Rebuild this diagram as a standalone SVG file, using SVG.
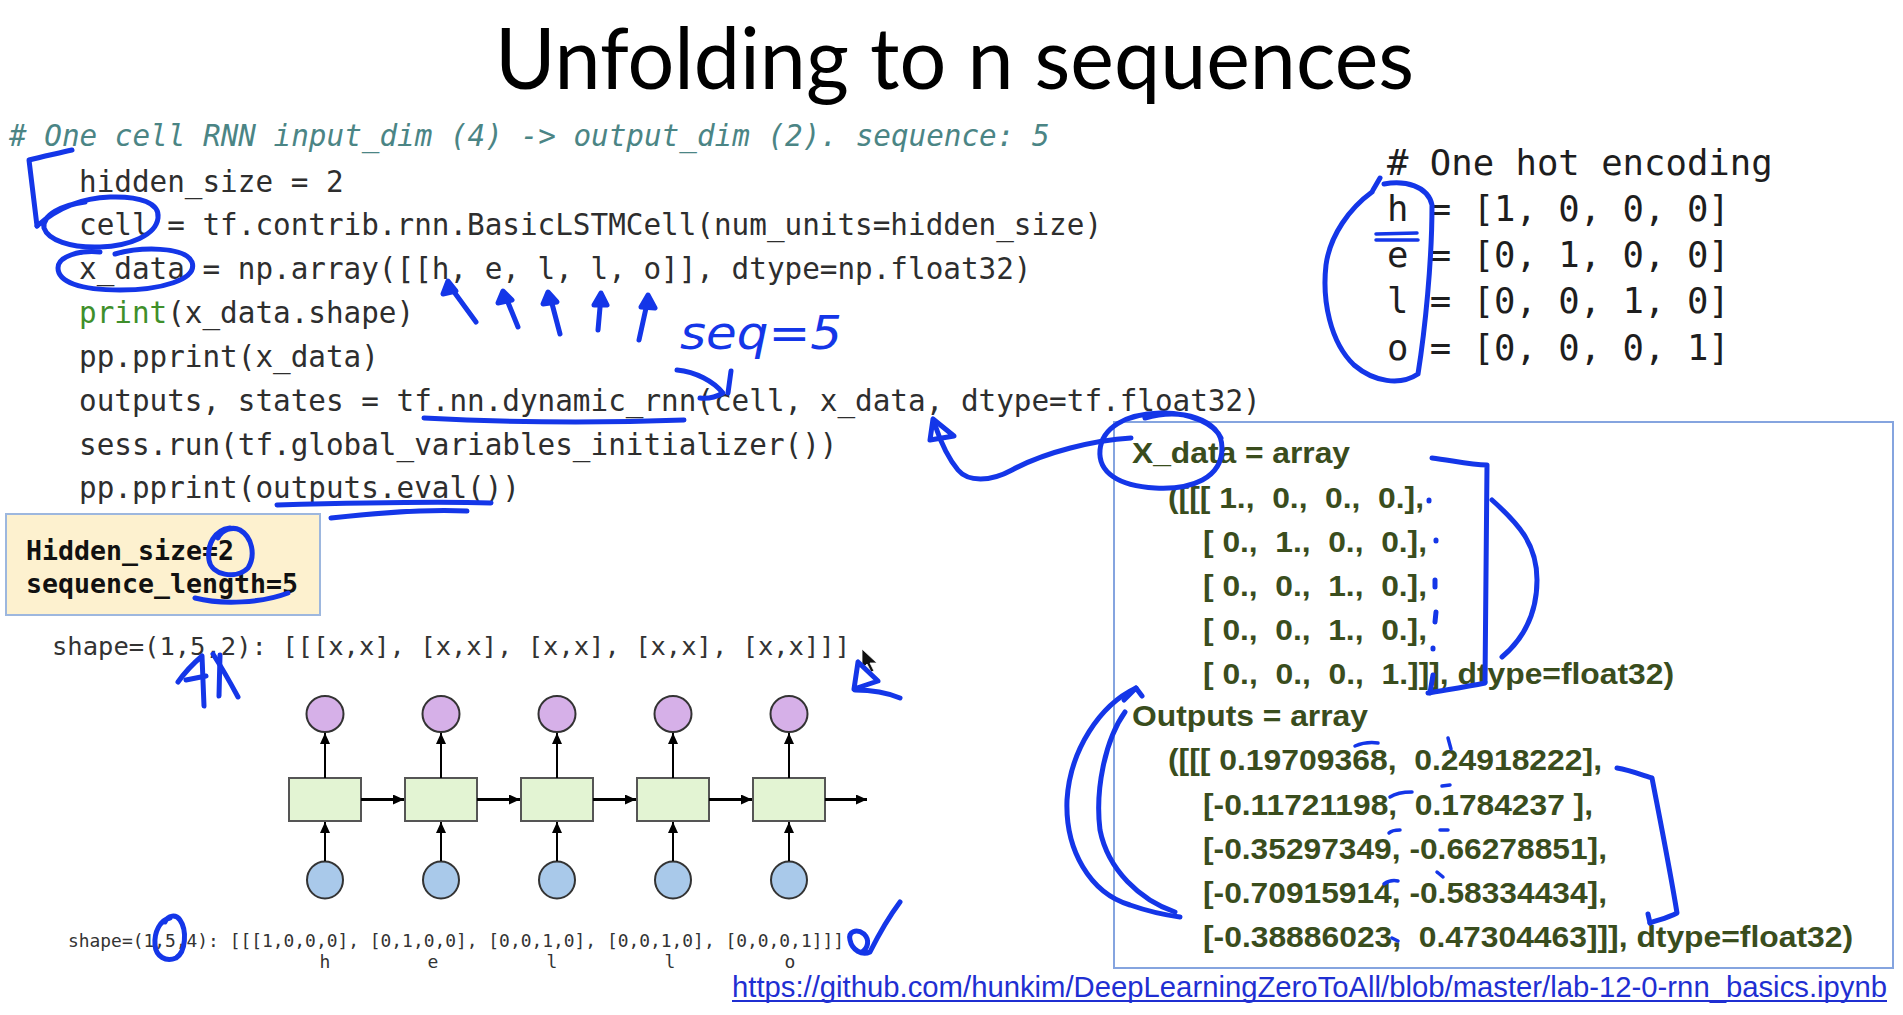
<svg xmlns="http://www.w3.org/2000/svg" width="1903" height="1015" viewBox="0 0 1903 1015">
<defs>
<style>
.title{font-family:Lato,"Open Sans","Liberation Sans",sans-serif;font-size:86px;fill:#000}
.code{font-family:"DejaVu Sans Mono","Liberation Mono",monospace;font-size:29.3px;fill:#2e2e2e;white-space:pre}
.cmt{font-style:italic;fill:#4b8585}
.kw{fill:#3f8f2b}
.hot{font-family:"DejaVu Sans Mono","Liberation Mono",monospace;font-size:35.6px;fill:#1e1e1e;white-space:pre}
.note{font-family:"DejaVu Sans Mono","Liberation Mono",monospace;font-size:26.5px;font-weight:bold;fill:#111}
.shape{font-family:"DejaVu Sans Mono","Liberation Mono",monospace;fill:#333;white-space:pre}
.arr{font-family:"Liberation Sans",Arial,sans-serif;font-size:30px;font-weight:bold;fill:#3a4d1d;white-space:pre}
.link{font-family:"Liberation Sans",Arial,sans-serif;font-size:29.2px;fill:#1f2fd2}
.ink{fill:none;stroke:#1436e8;stroke-width:5;stroke-linecap:round;stroke-linejoin:round}
.ink.thin{stroke-width:3.5}
.ink.solid{fill:#1436e8}
.hand{font-family:"DejaVu Sans","Liberation Sans",sans-serif;font-style:italic;font-size:46px;fill:#1436e8}
.out{fill:#d6b0e8;stroke:#333;stroke-width:2}
.inp{fill:#a9c9ea;stroke:#333;stroke-width:2}
.cell{fill:#e3f4d3;stroke:#555;stroke-width:2}
.edge{stroke:#000;stroke-width:2;fill:none}
.edge.h{stroke-width:3}
</style>
<marker id="ah" viewBox="0 0 11 10" refX="11" refY="5" markerWidth="11" markerHeight="10" markerUnits="userSpaceOnUse" orient="auto"><path d="M0,0 L11,5 L0,10 Z" fill="#000"/></marker>
</defs>

<rect width="1903" height="1015" fill="#fff"/>

<!-- heading -->
<text class="title" x="495" y="89" textLength="919" lengthAdjust="spacingAndGlyphs">Unfolding to n sequences</text>

<!-- source listing -->
<g id="code">
<text class="code cmt" x="9" y="146"># One cell RNN input_dim (4) -&gt; output_dim (2). sequence: 5</text>
<text class="code" x="79" y="192">hidden_size = 2</text>
<text class="code" x="79" y="235">cell = tf.contrib.rnn.BasicLSTMCell(num_units=hidden_size)</text>
<text class="code" x="79" y="279">x_data = np.array([[h, e, l, l, o]], dtype=np.float32)</text>
<text class="code" x="79" y="323"><tspan class="kw">print</tspan>(x_data.shape)</text>
<text class="code" x="79" y="367">pp.pprint(x_data)</text>
<text class="code" x="79" y="411">outputs, states = tf.nn.dynamic_rnn(cell, x_data, dtype=tf.float32)</text>
<text class="code" x="79" y="455">sess.run(tf.global_variables_initializer())</text>
<text class="code" x="79" y="498">pp.pprint(outputs.eval())</text>
</g>

<!-- one-hot table -->
<g id="one-hot">
<text class="hot" x="1387" y="175"># One hot encoding</text>
<text class="hot" x="1387" y="221">h = [1, 0, 0, 0]</text>
<text class="hot" x="1387" y="267">e = [0, 1, 0, 0]</text>
<text class="hot" x="1387" y="313">l = [0, 0, 1, 0]</text>
<text class="hot" x="1387" y="360">o = [0, 0, 0, 1]</text>
</g>

<!-- parameter note -->
<g id="params">
<rect x="6" y="514" width="314" height="101" fill="#fdf1cf" stroke="#9db7de" stroke-width="2"/>
<text class="note" x="26" y="560" textLength="208" lengthAdjust="spacingAndGlyphs">Hidden_size=2</text>
<text class="note" x="26" y="593" textLength="272" lengthAdjust="spacingAndGlyphs">sequence_length=5</text>
</g>

<text class="shape" x="52" y="655" font-size="25.5" textLength="798" lengthAdjust="spacingAndGlyphs">shape=(1,5,2): [[[x,x], [x,x], [x,x], [x,x], [x,x]]]</text>

<!-- unrolled RNN -->
<g id="outputs">
<g id="y1"><ellipse class="out" cx="325" cy="714" rx="18.5" ry="18"/></g>
<g id="y2"><ellipse class="out" cx="441" cy="714" rx="18.5" ry="18"/></g>
<g id="y3"><ellipse class="out" cx="557" cy="714" rx="18.5" ry="18"/></g>
<g id="y4"><ellipse class="out" cx="673" cy="714" rx="18.5" ry="18"/></g>
<g id="y5"><ellipse class="out" cx="789" cy="714" rx="18.5" ry="18"/></g>
</g>
<g id="cells">
<g id="c1"><rect class="cell" x="289" y="778" width="72" height="43"/></g>
<g id="c2"><rect class="cell" x="405" y="778" width="72" height="43"/></g>
<g id="c3"><rect class="cell" x="521" y="778" width="72" height="43"/></g>
<g id="c4"><rect class="cell" x="637" y="778" width="72" height="43"/></g>
<g id="c5"><rect class="cell" x="753" y="778" width="72" height="43"/></g>
</g>
<g id="inputs">
<g id="x1"><ellipse class="inp" cx="325" cy="880" rx="18" ry="18.5"/></g>
<g id="x2"><ellipse class="inp" cx="441" cy="880" rx="18" ry="18.5"/></g>
<g id="x3"><ellipse class="inp" cx="557" cy="880" rx="18" ry="18.5"/></g>
<g id="x4"><ellipse class="inp" cx="673" cy="880" rx="18" ry="18.5"/></g>
<g id="x5"><ellipse class="inp" cx="789" cy="880" rx="18" ry="18.5"/></g>
</g>
<g id="connectors">
<path class="edge" d="M325,778 L325,733" marker-end="url(#ah)"/>
<path class="edge" d="M441,778 L441,733" marker-end="url(#ah)"/>
<path class="edge" d="M557,778 L557,733" marker-end="url(#ah)"/>
<path class="edge" d="M673,778 L673,733" marker-end="url(#ah)"/>
<path class="edge" d="M789,778 L789,733" marker-end="url(#ah)"/>
<path class="edge" d="M325,861 L325,822" marker-end="url(#ah)"/>
<path class="edge" d="M441,861 L441,822" marker-end="url(#ah)"/>
<path class="edge" d="M557,861 L557,822" marker-end="url(#ah)"/>
<path class="edge" d="M673,861 L673,822" marker-end="url(#ah)"/>
<path class="edge" d="M789,861 L789,822" marker-end="url(#ah)"/>
<path class="edge h" d="M361,799.5 L404,799.5" marker-end="url(#ah)"/>
<path class="edge h" d="M477,799.5 L520,799.5" marker-end="url(#ah)"/>
<path class="edge h" d="M593,799.5 L636,799.5" marker-end="url(#ah)"/>
<path class="edge h" d="M709,799.5 L752,799.5" marker-end="url(#ah)"/>
<path class="edge h" d="M825,799.5 L867,799.5" marker-end="url(#ah)"/>
</g>

<text class="shape" x="68" y="947" font-size="18" textLength="776" lengthAdjust="spacingAndGlyphs">shape=(1,5,4): [[[1,0,0,0], [0,1,0,0], [0,0,1,0], [0,0,1,0], [0,0,0,1]]]</text>
<g class="shape" font-size="18" text-anchor="middle">
<text x="325" y="968">h</text>
<text x="433" y="968">e</text>
<text x="552" y="968">l</text>
<text x="670" y="968">l</text>
<text x="790" y="968">o</text>
</g>

<!-- printed arrays -->
<g id="results">
<rect x="1114" y="422" width="779" height="546" fill="none" stroke="#85a4df" stroke-width="2"/>
<text class="arr" x="1132" y="463" textLength="218" lengthAdjust="spacingAndGlyphs">X_data = array</text>
<text class="arr" x="1168" y="508" textLength="256" lengthAdjust="spacingAndGlyphs">([[[ 1.,  0.,  0.,  0.],</text>
<text class="arr" x="1203" y="552" textLength="224" lengthAdjust="spacingAndGlyphs">[ 0.,  1.,  0.,  0.],</text>
<text class="arr" x="1203" y="596" textLength="224" lengthAdjust="spacingAndGlyphs">[ 0.,  0.,  1.,  0.],</text>
<text class="arr" x="1203" y="640" textLength="224" lengthAdjust="spacingAndGlyphs">[ 0.,  0.,  1.,  0.],</text>
<text class="arr" x="1203" y="684" textLength="471" lengthAdjust="spacingAndGlyphs">[ 0.,  0.,  0.,  1.]]], dtype=float32)</text>
<text class="arr" x="1132" y="726" textLength="236" lengthAdjust="spacingAndGlyphs">Outputs = array</text>
<text class="arr" x="1168" y="770" textLength="434" lengthAdjust="spacingAndGlyphs">([[[ 0.19709368,  0.24918222],</text>
<text class="arr" x="1203" y="815" textLength="390" lengthAdjust="spacingAndGlyphs">[-0.11721198,  0.1784237 ],</text>
<text class="arr" x="1203" y="859" textLength="404" lengthAdjust="spacingAndGlyphs">[-0.35297349, -0.66278851],</text>
<text class="arr" x="1203" y="903" textLength="404" lengthAdjust="spacingAndGlyphs">[-0.70915914, -0.58334434],</text>
<text class="arr" x="1203" y="947" textLength="650" lengthAdjust="spacingAndGlyphs">[-0.38886023,  0.47304463]]], dtype=float32)</text>
</g>

<!-- source link -->
<text class="link" x="732" y="997" textLength="1155" lengthAdjust="spacingAndGlyphs">https://github.com/hunkim/DeepLearningZeroToAll/blob/master/lab-12-0-rnn_basics.ipynb</text>
<line x1="732" y1="1001" x2="1887" y2="1001" stroke="#1f2fd2" stroke-width="2"/>

<!-- mouse pointer -->
<polygon points="862,649 862,669 867,664 871,672 874,671 870,663 877,663" fill="#111" stroke="#fff" stroke-width="0.8"/>

<!-- pen annotations -->
<g id="ink">
<path class="ink" d="M72,150 C55,154 40,157 29,160 L37,226"/>
<path class="ink" d="M37,226 C55,210 80,198 110,197 C140,196 160,203 158,218 C156,235 130,246 100,247 C70,248 48,240 44,228 C42,215 62,205 85,202"/>
<path class="ink" d="M115,254 C140,247 185,246 192,262 C198,280 160,290 120,290 C80,290 58,282 58,268 C58,256 80,250 100,252"/>

<path class="ink" d="M476,322 L449,285"/><path class="ink solid" d="M443,294 L448,281 L456,291 Z"/>
<path class="ink" d="M518,327 L505,295"/><path class="ink solid" d="M498,303 L503,291 L512,300 Z"/>
<path class="ink" d="M560,334 L550,296"/><path class="ink solid" d="M543,304 L548,292 L557,302 Z"/>
<path class="ink" d="M598,330 L601,296"/><path class="ink solid" d="M594,305 L601,293 L607,305 Z"/>
<path class="ink" d="M639,340 L648,299"/><path class="ink solid" d="M641,307 L648,295 L655,308 Z"/>
<text class="hand" x="680" y="349" textLength="162" lengthAdjust="spacingAndGlyphs">seq=5</text>

<path class="ink" d="M424,418 C500,422 600,423 684,420"/>
<path class="ink" d="M677,370 C696,372 713,381 723,393 C716,397 708,399 700,398"/>
<path class="ink" d="M731,371 L728,393"/>

<path class="ink" d="M1131,438 C1095,440 1045,452 1012,470 C990,482 968,482 958,470 C948,458 941,443 935,425"/>
<path class="ink" d="M933,419 L930,440 L954,436 Z"/>
<path class="ink" d="M1145,418 C1180,408 1222,418 1222,448 C1222,478 1192,490 1155,488 C1118,486 1098,472 1100,450 C1102,428 1125,414 1160,413 C1192,412 1215,425 1221,438"/>

<path class="ink" d="M277,505 C350,503 430,501 491,503"/>
<path class="ink" d="M331,518 C385,512 430,509 467,511"/>

<path class="ink" d="M230,528 C214,530 207,545 209,560 C211,575 236,580 248,568 C256,555 252,537 240,530 C232,526 222,530 218,538"/>
<path class="ink" d="M195,598 C222,605 262,603 288,593"/>

<path class="ink" d="M178,682 C185,672 195,662 202,656 L204,706"/>
<path class="ink" d="M186,680 L206,676"/>
<path class="ink" d="M213,654 C222,668 230,682 238,697"/>
<path class="ink" d="M220,655 L219,696"/>
<path class="ink" d="M858,662 L854,689 L878,681 Z"/>
<path class="ink" d="M855,690 C870,690 888,693 900,698"/>

<path class="ink" d="M170,918 C160,920 154,932 155,945 C156,957 166,962 176,958 C186,952 187,930 180,920 C176,914 168,915 165,922"/>
<path class="ink" d="M900,902 C888,918 878,936 870,952 C862,956 852,950 850,940 C848,932 856,928 864,934 C870,940 868,948 862,952"/>

<path class="ink" d="M1373,190 L1380,178"/>
<path class="ink" d="M1384,184 C1405,180 1428,186 1432,205 C1432,262 1425,330 1418,374 C1400,386 1374,382 1354,365 C1330,342 1322,300 1326,265 C1330,235 1350,208 1372,192"/>
<path class="ink thin" d="M1376,234 L1417,233 M1376,240 L1418,240"/>

<path class="ink" d="M1432,458 C1450,460 1470,465 1487,465 L1485,683 C1466,687 1445,690 1428,693"/>
<path class="ink" d="M1433,675 L1430,693"/>
<path class="ink" d="M1492,500 C1520,525 1537,545 1537,580 C1537,615 1522,640 1502,657"/>
<path class="ink" d="M1429,500 L1429,501 M1436,540 L1436,541 M1435,580 L1435,587 M1436,612 L1435,622 M1433,648 L1433,649"/>

<path class="ink" d="M1136,688 C1100,705 1070,750 1067,800 C1065,850 1090,893 1130,905 C1150,912 1165,915 1180,917"/>
<path class="ink" d="M1125,712 C1105,740 1095,790 1100,830 C1108,870 1140,900 1175,912"/>
<path class="ink" d="M1124,700 L1136,688 L1142,696"/>

<path class="ink" d="M1617,768 C1630,770 1645,776 1652,778 C1662,830 1670,870 1677,913 C1668,918 1658,920 1650,923"/>
<path class="ink" d="M1650,923 L1648,914"/>

<path class="ink thin" d="M1355,746 C1362,743 1370,742 1378,743"/>
<path class="ink thin" d="M1448,738 L1451,749"/>
<path class="ink thin" d="M1390,797 C1396,793 1404,792 1412,792"/>
<path class="ink thin" d="M1442,786 L1450,785"/>
<path class="ink thin" d="M1389,833 C1392,830 1396,830 1400,830"/>
<path class="ink thin" d="M1440,830 L1448,830"/>
<path class="ink thin" d="M1384,884 C1388,881 1393,880 1398,881"/>
<path class="ink thin" d="M1437,872 L1443,877"/>
<path class="ink thin" d="M1392,938 L1398,941"/>
</g>
</svg>
